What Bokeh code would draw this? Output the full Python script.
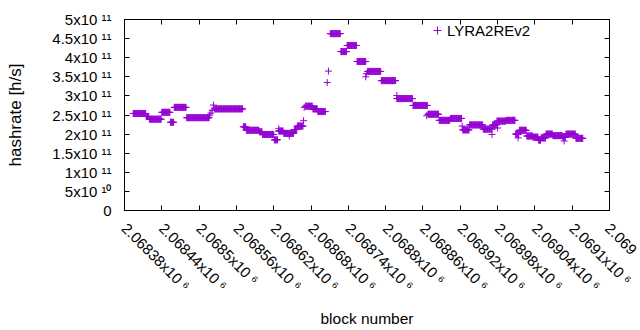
import numpy as np
from bokeh.plotting import figure
from bokeh.models import (Range1d, LinearAxis, FixedTicker, Legend, LegendItem,
                          ColumnDataSource, CustomLabelingPolicy)
from bokeh.embed import file_html
from bokeh.resources import INLINE

# ---- data ----
# plateaus of the per-block hashrate: first block, last block, hashrate [h/s]
seg_start = [2068394, 2068415, 2068420, 2068440, 2068454, 2068460, 2068480,
             2068525, 2068571, 2068576, 2068597, 2068602, 2068621, 2068628,
             2068636, 2068653, 2068658, 2068671, 2068683, 2068691, 2068711,
             2068728, 2068738, 2068754, 2068771, 2068793, 2068818, 2068844,
             2068868, 2068886, 2068904, 2068924, 2068935, 2068957, 2068972,
             2068979, 2068994, 2069009, 2069015, 2069027, 2069037, 2069046,
             2069050, 2069058, 2069069, 2069085, 2069090, 2069106]
seg_end = [2068414, 2068419, 2068439, 2068453, 2068459, 2068479, 2068516,
           2068570, 2068575, 2068596, 2068601, 2068620, 2068626, 2068635,
           2068652, 2068657, 2068667, 2068682, 2068690, 2068703, 2068727,
           2068737, 2068753, 2068768, 2068792, 2068816, 2068843, 2068867,
           2068885, 2068903, 2068922, 2068934, 2068956, 2068971, 2068978,
           2068993, 2069008, 2069014, 2069026, 2069036, 2069045, 2069049,
           2069057, 2069068, 2069084, 2069089, 2069105, 2069117]
seg_rate = [2.54e11, 2.46e11, 2.39e11, 2.57e11, 2.31e11, 2.70e11, 2.43e11,
            2.66e11, 2.19e11, 2.10e11, 2.06e11, 1.99e11, 1.85e11, 2.08e11,
            2.02e11, 2.12e11, 2.21e11, 2.73e11, 2.66e11, 2.59e11, 4.63e11,
            4.16e11, 4.32e11, 3.90e11, 3.64e11, 3.40e11, 2.93e11, 2.75e11,
            2.52e11, 2.36e11, 2.41e11, 2.11e11, 2.24e11, 2.13e11, 2.24e11,
            2.34e11, 2.36e11, 2.00e11, 2.10e11, 1.95e11, 1.92e11, 1.84e11,
            1.90e11, 2.00e11, 1.96e11, 1.92e11, 2.00e11, 1.89e11]
# isolated blocks off the plateaus
pt_block = [2068517, 2068519, 2068521, 2068523, 2068628, 2068645, 2068668,
            2068669, 2068706, 2068708, 2068768, 2068769, 2068818, 2068866,
            2068923, 2068971, 2068980, 2069013, 2069087]
pt_rate = [2.50e11, 2.55e11, 2.62e11, 2.76e11, 2.14e11, 1.95e11, 2.35e11,
           2.70e11, 3.35e11, 3.65e11, 3.50e11, 3.58e11, 3.01e11, 2.48e11,
           2.21e11, 1.99e11, 2.16e11, 1.90e11, 1.82e11]

series_name = "LYRA2REv2"

x_ticks = [2068380, 2068440, 2068500, 2068560, 2068620, 2068680, 2068740,
           2068800, 2068860, 2068920, 2068980, 2069040, 2069100, 2069160]
# the last label runs off the right edge of the picture; only its start shows
x_tick_labels = ["2.06838x10 \u2076", "2.06844x10 \u2076", "2.0685x10 \u2076",
                 "2.06856x10 \u2076", "2.06862x10 \u2076", "2.06868x10 \u2076",
                 "2.06874x10 \u2076", "2.0688x10 \u2076", "2.06886x10 \u2076",
                 "2.06892x10 \u2076", "2.06898x10 \u2076", "2.06904x10 \u2076",
                 "2.0691x10 \u2076", "2.069"]
y_ticks = [0, 50000000000, 100000000000, 150000000000, 200000000000,
           250000000000, 300000000000, 350000000000, 400000000000,
           450000000000, 500000000000]
y_tick_labels = ["0", "5x10 \u00b9\u2070", "1x10 \u00b9\u00b9", "1.5x10 \u00b9\u00b9",
                 "2x10 \u00b9\u00b9", "2.5x10 \u00b9\u00b9", "3x10 \u00b9\u00b9",
                 "3.5x10 \u00b9\u00b9", "4x10 \u00b9\u00b9", "4.5x10 \u00b9\u00b9",
                 "5x10 \u00b9\u00b9"]

# ---- build the point table ----
blocks = np.concatenate([np.arange(s, e + 1) for s, e in zip(seg_start, seg_end)]
                        + [np.array(pt_block)])
rates = np.concatenate([np.full(e - s + 1, r) for s, e, r in zip(seg_start, seg_end, seg_rate)]
                       + [np.array(pt_rate)])
src = ColumnDataSource(dict(block=blocks, rate=rates))

FONT = "Liberation Sans"
FS = "15px"
COLOR = "#9400d3"

p = figure(width=640, height=330, output_backend="svg", toolbar_location=None,
           x_range=Range1d(x_ticks[0], x_ticks[-1]), y_range=Range1d(y_ticks[0], y_ticks[-1]),
           min_border_left=124, min_border_right=31, min_border_top=19,
           min_border_bottom=119, x_axis_label="block number",
           y_axis_label="hashrate [h/s]")
p.xgrid.visible = False
p.ygrid.visible = False
p.outline_line_color = "black"
p.outline_line_width = 1
p.background_fill_color = "white"
p.border_fill_color = "white"

r = p.scatter(x="block", y="rate", source=src, marker="cross", size=7,
              line_color=COLOR, line_width=1)

for ax in (p.xaxis[0], p.yaxis[0]):
    ax.major_tick_in = 5
    ax.major_tick_out = 0
    ax.minor_tick_in = 0
    ax.minor_tick_out = 0
    ax.axis_line_color = "black"
    ax.major_tick_line_color = "black"
    ax.major_label_text_font = FONT
    ax.major_label_text_font_size = FS
    ax.major_label_text_color = "black"
    ax.axis_label_text_font = FONT
    ax.axis_label_text_font_style = "normal"
    ax.axis_label_text_color = "black"

p.xaxis[0].ticker = FixedTicker(ticks=x_ticks)
p.xaxis[0].major_label_overrides = dict(zip(x_ticks, x_tick_labels))
p.xaxis[0].major_label_orientation = -np.pi / 4
p.xaxis[0].major_label_standoff = 15
p.xaxis[0].axis_label_text_font_size = "15.5px"
p.xaxis[0].axis_label_standoff = 7

p.yaxis[0].ticker = FixedTicker(ticks=y_ticks)
p.yaxis[0].major_label_overrides = dict(zip(y_ticks, y_tick_labels))
p.yaxis[0].major_label_standoff = 13
p.yaxis[0].axis_label_text_font_size = "17px"
p.yaxis[0].axis_label_standoff = 24

# mirrored ticks on top and right, without labels
no_labels = CustomLabelingPolicy(code="return new Set()")
for side, ticks in (("above", x_ticks), ("right", y_ticks)):
    ax = LinearAxis(ticker=FixedTicker(ticks=ticks), major_label_policy=no_labels,
                    major_label_text_font_size="0px",
                    major_tick_in=5, major_tick_out=0, minor_tick_in=0, minor_tick_out=0,
                    major_label_standoff=0, axis_line_color="black")
    p.add_layout(ax, side)

legend = Legend(items=[LegendItem(label=series_name, renderers=[r])],
                location=(303, 170), padding=0, margin=0, spacing=0,
                glyph_width=20, glyph_height=20, label_standoff=0,
                label_text_font=FONT, label_text_font_size=FS,
                label_text_color="black", border_line_color=None,
                background_fill_alpha=0)
p.add_layout(legend)

open("out.html", "w").write(file_html(p, INLINE))
